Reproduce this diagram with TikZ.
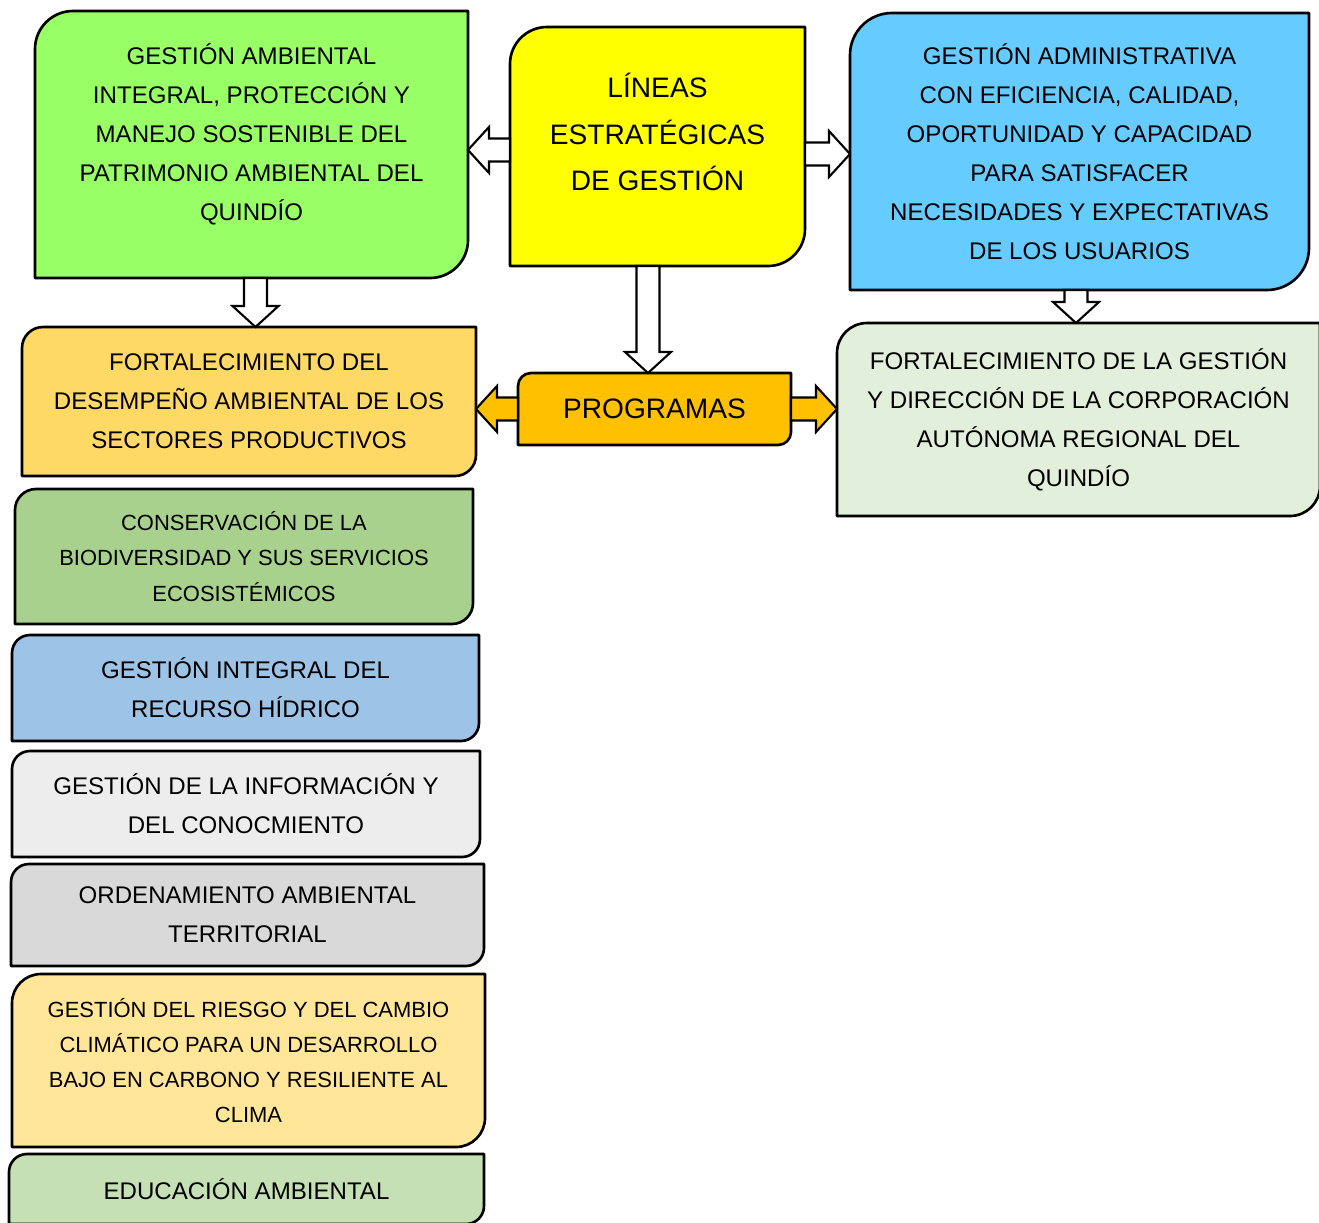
\documentclass[tikz,border=0pt]{standalone}
\usepackage{fontspec}
\setmainfont{Liberation Sans}
\usetikzlibrary{positioning,calc,backgrounds}
\definecolor{lgreen}{RGB}{153,255,102}
\definecolor{lyellow}{RGB}{255,255,0}
\definecolor{lblue}{RGB}{102,204,255}
\definecolor{pgold}{RGB}{255,217,102}
\definecolor{porange}{RGB}{255,192,0}
\definecolor{psage}{RGB}{226,239,218}
\definecolor{pgreen}{RGB}{169,209,142}
\definecolor{pblue}{RGB}{157,195,230}
\definecolor{plight}{RGB}{237,237,237}
\definecolor{pgray}{RGB}{217,217,217}
\definecolor{pcream}{RGB}{255,230,153}
\definecolor{pmint}{RGB}{197,224,180}
\newcommand{\arw}{0.23cm}
\newcommand{\arh}{0.46cm}
\newcommand{\arl}{0.42cm}
\tikzset{
  box/.style={align=center, inner sep=0pt, outer sep=0pt, font=\fontsize{13.7}{22.2}\selectfont},
  bigbox/.style={box, font=\fontsize{16}{26.7}\selectfont},
  smallbox/.style={box, font=\fontsize{12.5}{20}\selectfont},
  frame/.style={draw=black, line width=1.5pt, line join=round},
  barrow/.style={draw=black, line width=1.2pt, fill=white, line join=miter,
    to path={let \p1=($(\tikztotarget)!\arl!(\tikztostart)$) in
      ($(\tikztostart)!\arw!90:(\tikztotarget)$) -- ($(\p1)!\arw!-90:(\tikztostart)$)
      -- ($(\p1)!\arh!-90:(\tikztostart)$) -- (\tikztotarget)
      -- ($(\p1)!\arh!90:(\tikztostart)$) -- ($(\p1)!\arw!90:(\tikztostart)$)
      -- ($(\tikztostart)!\arw!-90:(\tikztotarget)$) -- cycle}}
}

\begin{document}
\begin{tikzpicture}
    \useasboundingbox (0,0) rectangle (26.38,-24.44);
    % lineas y programas
    \node[bigbox, minimum width=5.9cm, minimum height=4.78cm] (lin) at (13.15,-2.93) {LÍNEAS\\ESTRATÉGICAS\\DE GESTIÓN\\[-10pt]\mbox{}};
    \node[bigbox, minimum width=5.46cm, minimum height=1.44cm] (prog) at (13.09,-8.18) {PROGRAMAS};
    \node[box, minimum width=8.66cm, minimum height=5.34cm] (gaip) at (5.03,-2.89) {GESTIÓN AMBIENTAL\\INTEGRAL, PROTECCIÓN Y\\MANEJO SOSTENIBLE DEL\\PATRIMONIO AMBIENTAL DEL\\QUINDÍO\\[-8pt]\mbox{}};
    \node[box, minimum width=9.18cm, minimum height=5.54cm] (adm) at (21.59,-3.03) {GESTIÓN ADMINISTRATIVA\\CON EFICIENCIA, CALIDAD,\\OPORTUNIDAD Y CAPACIDAD\\PARA SATISFACER\\NECESIDADES Y EXPECTATIVAS\\DE LOS USUARIOS};
    \node[box, minimum width=9.08cm, minimum height=2.98cm] (fdas) at (4.98,-8.03) {FORTALECIMIENTO DEL\\DESEMPEÑO AMBIENTAL DE LOS\\SECTORES PRODUCTIVOS};
    \node[box, minimum width=9.66cm, minimum height=3.86cm] (fgd) at (21.57,-8.39) {FORTALECIMIENTO DE LA GESTIÓN\\Y DIRECCIÓN DE LA CORPORACIÓN\\AUTÓNOMA REGIONAL DEL\\QUINDÍO};
    % programas de la columna izquierda
    \node[smallbox, minimum width=9.16cm, minimum height=2.7cm] (cbio) at (4.88,-11.13) {CONSERVACIÓN DE LA\\BIODIVERSIDAD Y SUS SERVICIOS\\ECOSISTÉMICOS};
    \node[box, minimum width=9.34cm, minimum height=2.12cm] (girh) at (4.91,-13.76) {GESTIÓN INTEGRAL DEL\\RECURSO HÍDRICO};
    \node[box, minimum width=9.36cm, minimum height=2.12cm] (ginfo) at (4.92,-16.08) {GESTIÓN DE LA INFORMACIÓN Y\\DEL CONOCMIENTO};
    \node[box, minimum width=9.46cm, minimum height=2.04cm] (orden) at (4.95,-18.30) {ORDENAMIENTO AMBIENTAL\\TERRITORIAL};
    \node[smallbox, minimum width=9.46cm, minimum height=3.46cm] (riesgo) at (4.97,-21.21) {GESTIÓN DEL RIESGO Y DEL CAMBIO\\CLIMÁTICO PARA UN DESARROLLO\\BAJO EN CARBONO Y RESILIENTE AL\\CLIMA};
    \node[box, minimum width=9.5cm, minimum height=1.4cm] (educ) at (4.93,-23.78) {EDUCACIÓN AMBIENTAL};
    % cajas con esquinas redondeadas en diagonal
    \begin{scope}[on background layer]
      \foreach \n/\c/\r in {lin/lyellow/0.74, prog/porange/0.26, gaip/lgreen/0.76, adm/lblue/0.84,
          fdas/pgold/0.42, fgd/psage/0.6, cbio/pgreen/0.42, girh/pblue/0.36, ginfo/plight/0.36,
          orden/pgray/0.36, riesgo/pcream/0.58, educ/pmint/0.36}
        \draw[frame, fill=\c] (\n.north east) -- ($(\n.south east)+(0,\r)$)
          arc[start angle=0, end angle=-90, radius=\r] -- (\n.south west)
          -- ($(\n.north west)-(0,\r)$) arc[start angle=180, end angle=90, radius=\r] -- cycle;
    \end{scope}
    % flechas
    \coordinate (lw) at ([yshift=-0.07cm]lin.west);
    \coordinate (le) at ([yshift=-0.15cm]lin.east);
    \coordinate (ls) at ([xshift=-0.19cm]lin.south);
    \coordinate (gs) at ([xshift=0.08cm]gaip.south);
    \coordinate (as) at ([xshift=-0.07cm]adm.south);
    \draw[barrow] (lw) to (lw -| gaip.east);
    \draw[barrow] (le) to (le -| adm.west);
    \draw[barrow] (ls) to (ls |- prog.north);
    \draw[barrow] (gs) to (gs |- fdas.north);
    \draw[barrow] (as) to (as |- fgd.north);
    \draw[barrow, fill=porange] (prog.west) to (prog.west -| fdas.east);
    \draw[barrow, fill=porange] (prog.east) to (prog.east -| fgd.west);
\end{tikzpicture}
\end{document}
